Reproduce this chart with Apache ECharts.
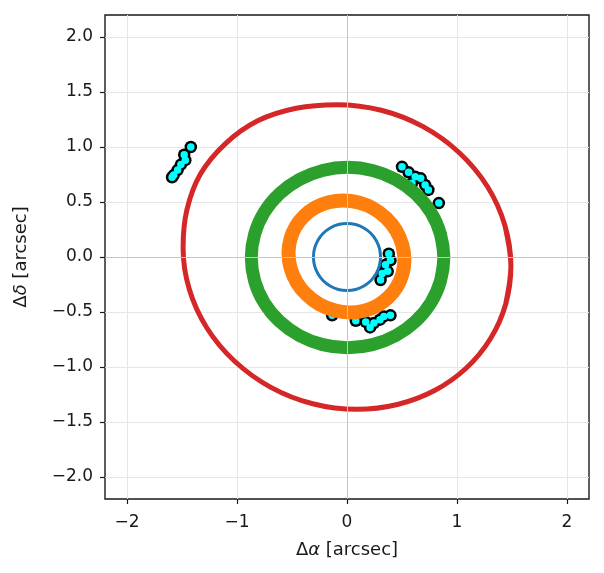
<!DOCTYPE html>
<html>
<head>
    <meta charset="utf-8">
    <title>lens caustics</title>
    <script src="https://cdn.jsdelivr.net/npm/echarts@6/dist/echarts.min.js"></script>
    <style>
        html, body { margin: 0; padding: 0; background: #fff; }
        #main { width: 604px; height: 573px; }
    </style>
</head>
<body>
    <div id="main"></div>
    <script type="text/javascript">
    // curves, [dalpha, ddelta] in arcsec (left/right/top/bottom extremes are points)
    var redRing = [[1.490,-0.085],[1.435,0.289],[1.275,0.643],[1.021,0.948],[0.692,1.185],[0.312,1.334],
        [-0.091,1.385],[-0.462,1.352],[-0.812,1.238],[-1.107,1.029],[-1.331,0.756],[-1.455,0.430],
        [-1.490,0.085],[-1.435,-0.289],[-1.275,-0.643],[-1.021,-0.948],[-0.692,-1.185],[-0.312,-1.334],
        [0.091,-1.385],[0.458,-1.341],[0.796,-1.214],[1.085,-1.009],[1.305,-0.741],[1.443,-0.427]];
    var greenRing = [[0.880,-0.005],[0.850,0.207],[0.763,0.405],[0.624,0.575],[0.443,0.705],[0.232,0.787],
        [0.005,0.815],[-0.222,0.787],[-0.433,0.705],[-0.614,0.575],[-0.753,0.405],[-0.840,0.207],
        [-0.870,-0.005],[-0.840,-0.217],[-0.753,-0.415],[-0.614,-0.585],[-0.433,-0.715],[-0.222,-0.797],
        [0.005,-0.825],[0.232,-0.797],[0.443,-0.715],[0.624,-0.585],[0.763,-0.415],[0.850,-0.217]];
    var orangeRing = [[0.522,-0.025],[0.502,0.113],[0.446,0.242],[0.356,0.354],[0.240,0.441],[0.106,0.495],
        [-0.036,0.514],[-0.166,0.498],[-0.286,0.451],[-0.388,0.375],[-0.466,0.277],[-0.515,0.161],
        [-0.532,0.035],[-0.512,-0.103],[-0.456,-0.232],[-0.366,-0.344],[-0.250,-0.431],[-0.116,-0.485],
        [0.026,-0.504],[0.156,-0.488],[0.276,-0.441],[0.378,-0.365],[0.456,-0.267],[0.505,-0.151]];
    var blueRing = [[0.305,0.000],[0.295,0.079],[0.264,0.153],[0.216,0.216],[0.153,0.264],[0.079,0.295],
        [0.000,0.305],[-0.079,0.295],[-0.153,0.264],[-0.216,0.216],[-0.264,0.153],[-0.295,0.079],
        [-0.305,0.000],[-0.295,-0.079],[-0.264,-0.153],[-0.216,-0.216],[-0.153,-0.264],[-0.079,-0.295],
        [0.000,-0.305],[0.079,-0.295],[0.153,-0.264],[0.216,-0.216],[0.264,-0.153],[0.295,-0.079]];
    // lensed image positions
    var images = [[-1.42,1.00],[-1.48,0.93],[-1.47,0.88],[-1.51,0.84],[-1.54,0.79],[-1.575,0.745],[-1.59,0.725],
        [0.50,0.82],[0.56,0.77],[0.62,0.73],[0.67,0.715],[0.59,0.67],[0.71,0.655],[0.74,0.61],[0.835,0.49],
        [0.38,0.03],[0.395,-0.03],[0.35,-0.07],[0.37,-0.13],[0.32,-0.15],[0.305,-0.21],
        [0.08,-0.58],[0.17,-0.59],[0.21,-0.64],[0.245,-0.60],[0.30,-0.57],[0.335,-0.54],[0.395,-0.53],
        [-0.135,-0.53]];
    var xTicks = [-2, -1, 0, 1, 2];
    var yTicks = [-2.0, -1.5, -1.0, -0.5, 0.0, 0.5, 1.0, 1.5, 2.0];

    var font = 'DejaVu Sans';
    var chart = echarts.init(document.getElementById('main'));

    // closed curve: wrap one point on each side so the smoothing has no seam
    function ring(pts, color, width) {
        var n = pts.length;
        return {
            type: 'line',
            data: [pts[n - 1]].concat(pts, [pts[0], pts[1]]),
            smooth: 0.34,
            symbol: 'none',
            lineStyle: { color: color, width: width, join: 'round' },
            silent: true
        };
    }

    function minus(v, digits) {
        var s = Math.abs(v).toFixed(digits);
        return (v < 0 ? '\u2212' : '') + s;
    }

    var nameRich = {
        g: { fontFamily: font, fontSize: 18, color: '#1a1a1a' },
        i: { fontFamily: font, fontSize: 18, fontStyle: 'italic', color: '#1a1a1a' }
    };

    var option = {
        animation: false,
        grid: {
            left: 105, top: 15, width: 484, height: 484,
            show: true, borderColor: '#1a1a1a', borderWidth: 1.4
        },
        xAxis: {
            type: 'value', min: -2.2, max: 2.2,
            axisLine: { show: false, onZero: false },
            axisTick: { show: true, inside: false, length: 5, customValues: xTicks,
                lineStyle: { color: '#1a1a1a', width: 1.2 } },
            axisLabel: { customValues: xTicks, fontFamily: font, fontSize: 17, color: '#1a1a1a', margin: 15,
                formatter: function (v) { return minus(v, 0); } },
            splitLine: { show: true, lineStyle: { color: '#e6e6e6', width: 1 } },
            name: '{g|\u0394}{i|\u03b1}{g| [arcsec]}',
            nameLocation: 'middle', nameGap: 42,
            nameTextStyle: { rich: nameRich }
        },
        yAxis: {
            type: 'value', min: -2.2, max: 2.2,
            axisLine: { show: false, onZero: false },
            axisTick: { show: true, inside: false, length: 5, customValues: yTicks,
                lineStyle: { color: '#1a1a1a', width: 1.2 } },
            axisLabel: { customValues: yTicks, fontFamily: font, fontSize: 17, color: '#1a1a1a', margin: 12,
                formatter: function (v) { return minus(v, 1); } },
            splitLine: { show: true, lineStyle: { color: '#e6e6e6', width: 1 } },
            name: '{g|\u0394}{i|\u03b4}{g| [arcsec]}',
            nameLocation: 'middle', nameGap: 75,
            nameTextStyle: { rich: nameRich }
        },
        series: [
            {
                type: 'line', data: [], silent: true,
                markLine: {
                    symbol: 'none', silent: true, label: { show: false },
                    lineStyle: { color: '#c4c4c4', width: 1, type: 'solid' },
                    data: [{ xAxis: 0 }, { yAxis: 0 }]
                }
            },
            ring(redRing, '#d62728', 5),
            ring(greenRing, '#2ca02c', 13),
            ring(orangeRing, '#ff7f0e', 14),
            ring(blueRing, '#1f77b4', 3),
            {
                type: 'scatter', data: images, symbolSize: 12.5, silent: true,
                itemStyle: { color: '#000000', opacity: 1 }
            },
            {
                type: 'scatter', data: images, symbolSize: 7.5, silent: true,
                itemStyle: { color: '#00ffff', opacity: 1 }
            }
        ]
    };
    chart.setOption(option);
    </script>
</body>
</html>
